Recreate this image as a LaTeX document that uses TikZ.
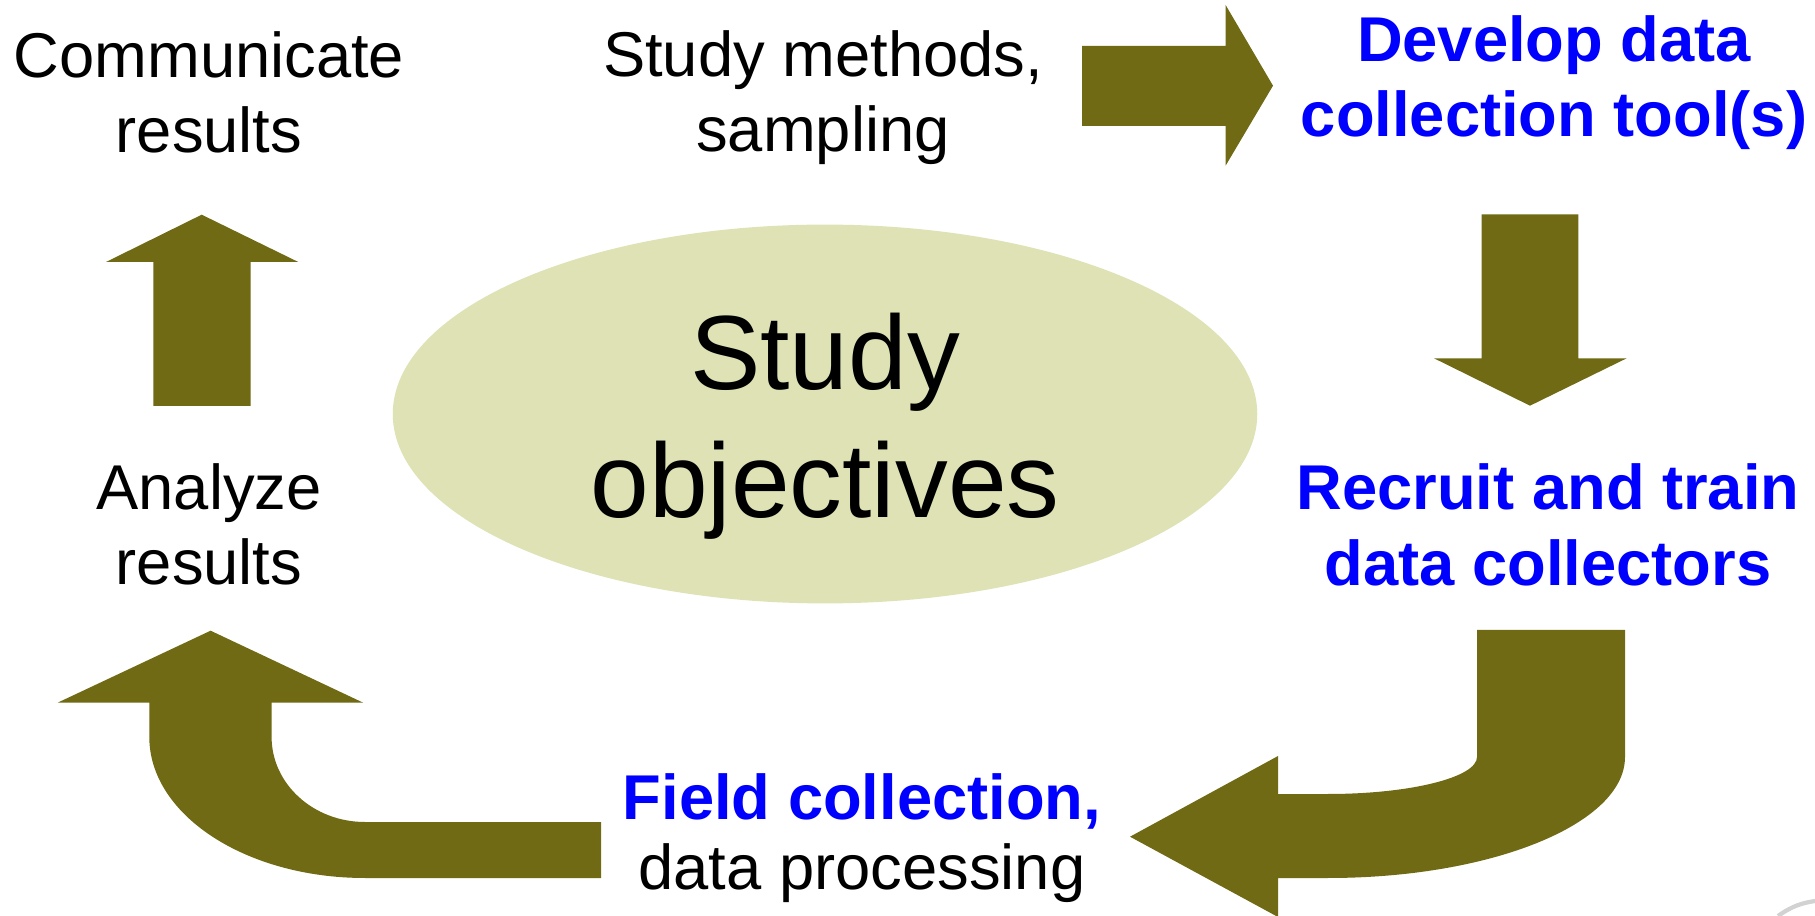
\documentclass[tikz,border=0pt]{standalone}
\usepackage{fontspec}
\setmainfont{Liberation Sans}
\usepackage{tikz}
\usetikzlibrary{shapes.geometric}

\definecolor{arrowolive}{RGB}{111,106,19}
\definecolor{objgreen}{RGB}{222,226,180}
\definecolor{stepblue}{RGB}{0,0,255}

\begin{document}
\begin{tikzpicture}[x=0.01cm, y=-0.01cm,
    steptext/.style={align=center, anchor=base, inner sep=0pt, font=\fontsize{18}{21.6}\selectfont},
    bluetext/.style={steptext, text=stepblue, font=\fontsize{18}{21.6}\selectfont\bfseries},
    blockarrow/.style={fill=arrowolive}]
      \useasboundingbox (0,0) rectangle (1815,916);
      % centre
      \node [ellipse, fill=objgreen, inner sep=0pt, minimum width=8.64cm, minimum height=3.786cm] (objshape) at (825,414) {};
      \node [steptext, font=\fontsize{30}{36.4}\selectfont] (obj) at (825,518) {Study\\objectives};
      % steps (anchored at the last baseline)
      \node [steptext] (methods) at (823,152) {Study methods,\\sampling};
      \node [bluetext] (tools) at (1554,137) {Develop data\\collection tool(s)};
      \node [bluetext] (recruit) at (1548,585.5) {Recruit and train\\data collectors};
      \node [steptext] (field) at (862,889) {\textcolor{stepblue}{\bfseries Field collection,}\\[-0.06cm]data processing};
      \node [steptext] (analyze) at (209,585) {Analyze\\results};
      \node [steptext] (communicate) at (209,153) {Communicate\\results};
      % arrows
      \fill [blockarrow] (1082,46) -- (1225.6,46) -- (1225.6,5) -- (1273,85.7) -- (1225.6,165.7) -- (1225.6,126) -- (1082,126) -- cycle;
      \fill [blockarrow] (1481.7,214.3) -- (1578.3,214.3) -- (1578.3,358.3) -- (1626.7,358.3) -- (1530,405.7) -- (1434,358.3) -- (1481.7,358.3) -- cycle;
      \fill [blockarrow] (1477,630) -- (1625,630) -- (1625,757)
            .. controls (1625,823.8) and (1492,878) .. (1328,878)
            -- (1278,878) -- (1278,917) -- (1130,836.7) -- (1278,756) -- (1278,794) -- (1328,794)
            .. controls (1410.3,794) and (1477,777.4) .. (1477,757) -- cycle;
      \fill [blockarrow] (601,822) -- (601,878) -- (365,878)
            .. controls (245.9,878) and (149.3,814.9) .. (149.3,737)
            -- (149.3,702.7) -- (57.6,702.7) -- (210.6,630.7) -- (363.2,702.7) -- (271.6,702.7) -- (271.6,737)
            .. controls (271.6,784) and (313.4,822) .. (365,822) -- cycle;
      \fill [blockarrow] (153.3,406) -- (153.3,262) -- (106,262) -- (201.7,214.7) -- (298.3,262) -- (250.7,262) -- (250.7,406) -- cycle;
      % corner mark
      \draw [gray!35, line width=1.2pt] (1778,916) .. controls (1792,906) and (1802,903) .. (1815,901);
\end{tikzpicture}
\end{document}
